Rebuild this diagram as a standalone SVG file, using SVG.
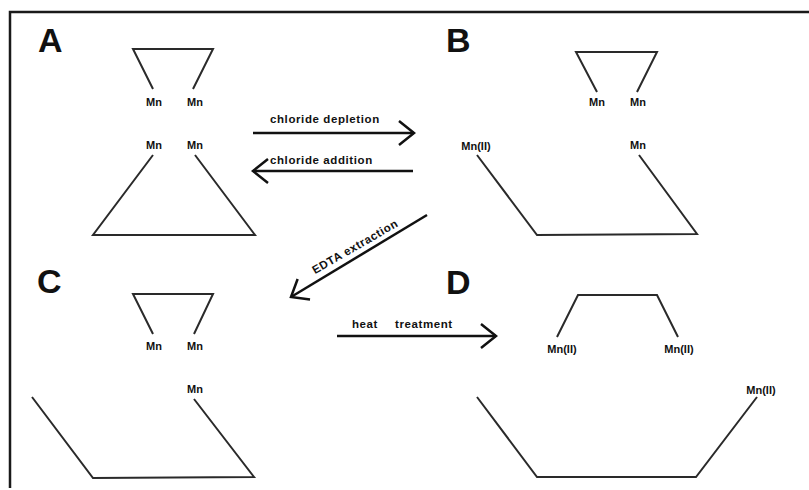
<svg xmlns="http://www.w3.org/2000/svg" width="809" height="490" viewBox="0 0 809 490">
<style>
.frame{stroke:#1a1a1a;stroke-width:2.5;fill:none}
.shape{stroke:#2a2a2a;stroke-width:2;fill:none;stroke-linejoin:miter}
.arr{stroke:#111;stroke-width:2.5;fill:none}
.big{font-family:"Liberation Sans",Arial,sans-serif;font-weight:bold;font-size:34px;fill:#111}
.mn{font-family:"Liberation Sans",Arial,sans-serif;font-weight:bold;font-size:11px;fill:#111;text-anchor:middle}
.lab{font-family:"Liberation Sans",Arial,sans-serif;font-weight:bold;font-size:11.5px;fill:#111;letter-spacing:0.6px}
</style>
<defs>
<marker id="chev" markerUnits="userSpaceOnUse" markerWidth="30" markerHeight="30" refX="0" refY="0" viewBox="-16 -15 20 30" orient="auto">
<path d="M-15,-12 L0,0 L-15,12" fill="none" stroke="#111" stroke-width="2.5"/>
</marker>
</defs>
<rect width="809" height="490" fill="#fff"/>
<path class="frame" d="M10,488 L10,12 L809,12"/>

<g id="panelA">
<text class="big" x="38" y="52">A</text>
<path class="shape" d="M153,89 L133,49 L213,49 L193,89"/>
<text class="mn" x="154" y="106">Mn</text>
<text class="mn" x="195" y="106">Mn</text>
<text class="mn" x="154" y="149">Mn</text>
<text class="mn" x="195" y="149">Mn</text>
<path class="shape" d="M153,155 L93,235 L255,235 L195,155"/>
</g>

<g id="panelB">
<text class="big" x="446" y="52">B</text>
<path class="shape" d="M597,92 L576,52 L657,52 L637,92"/>
<text class="mn" x="597" y="106">Mn</text>
<text class="mn" x="638" y="106">Mn</text>
<text class="mn" x="476" y="150">Mn(II)</text>
<text class="mn" x="638" y="149">Mn</text>
<path class="shape" d="M477,155 L537,235 L697,234 L639,155"/>
</g>

<g id="panelC">
<text class="big" x="37" y="293">C</text>
<path class="shape" d="M153,334 L133,294 L213,294 L194,334"/>
<text class="mn" x="154" y="350">Mn</text>
<text class="mn" x="195" y="350">Mn</text>
<text class="mn" x="195" y="393">Mn</text>
<path class="shape" d="M32,397 L93,478 L254,477 L194,399"/>
</g>

<g id="panelD">
<text class="big" x="446" y="294">D</text>
<path class="shape" d="M557,337 L578,295 L657,295 L678,337"/>
<text class="mn" x="562" y="353">Mn(II)</text>
<text class="mn" x="679" y="353">Mn(II)</text>
<text class="mn" x="761" y="394">Mn(II)</text>
<path class="shape" d="M477,397 L537,477 L696,477 L757,397"/>
</g>

<g id="connectors">
<line class="arr" x1="253" y1="133" x2="414" y2="133" marker-end="url(#chev)"/>
<text class="lab" x="270" y="123">chloride depletion</text>
<line class="arr" x1="413" y1="171" x2="253" y2="171" marker-end="url(#chev)"/>
<text class="lab" x="270" y="164">chloride addition</text>
<line class="arr" x1="427" y1="215" x2="291" y2="297" marker-end="url(#chev)"/>
<text class="lab" x="0" y="0" text-anchor="middle" transform="translate(357,250) rotate(-30)">EDTA extraction</text>
<line class="arr" x1="337" y1="336" x2="496" y2="336" marker-end="url(#chev)"/>
<text class="lab" x="352" y="328">heat</text>
<text class="lab" x="395" y="328">treatment</text>
</g>
</svg>
